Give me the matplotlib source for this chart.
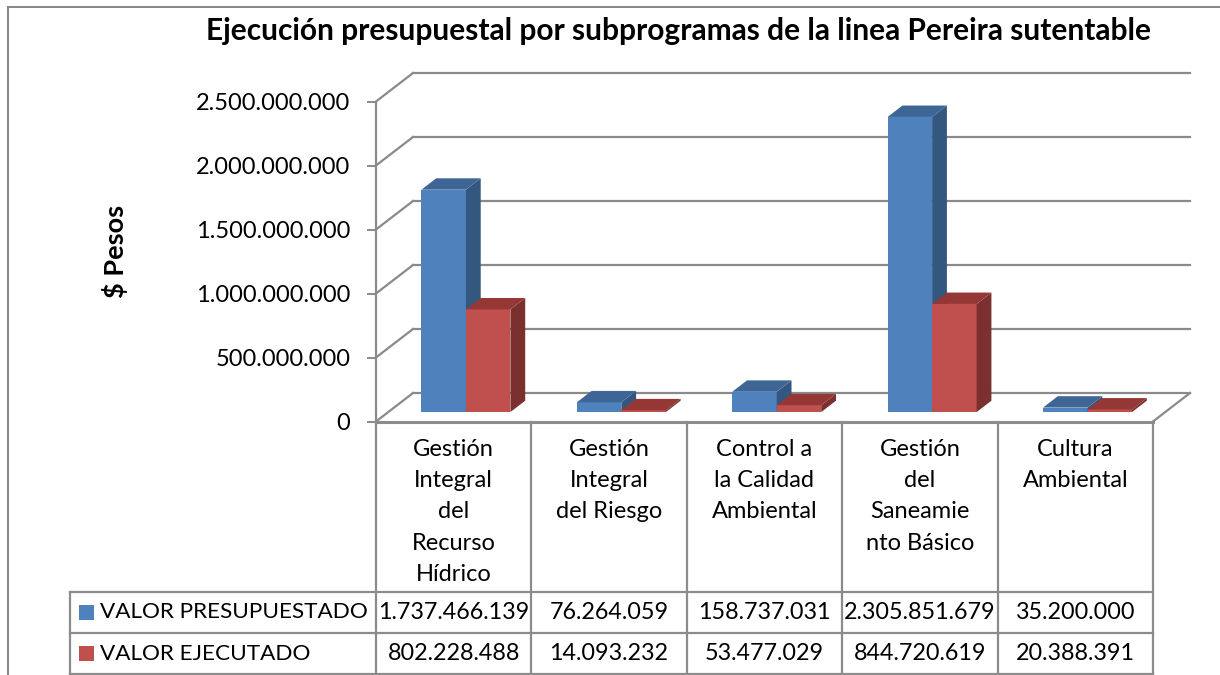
import matplotlib
matplotlib.use('Agg')
import matplotlib.pyplot as plt
from matplotlib.patches import Polygon, Rectangle
from matplotlib.lines import Line2D
from matplotlib.ticker import FuncFormatter
import matplotlib.transforms as mtransforms

# ---------------- data ----------------
title = "Ejecución presupuestal por subprogramas de la linea Pereira sutentable"
categories = ["Gestión\nIntegral\ndel\nRecurso\nHídrico",
              "Gestión\nIntegral\ndel Riesgo",
              "Control a\nla Calidad\nAmbiental",
              "Gestión\ndel\nSaneamie\nnto Básico",
              "Cultura\nAmbiental"]
series_names = ["VALOR PRESUPUESTADO", "VALOR EJECUTADO"]
presupuestado = [1737466139, 76264059, 158737031, 2305851679, 35200000]
ejecutado = [802228488, 14093232, 53477029, 844720619, 20388391]
yticks = [0, 500000000, 1000000000, 1500000000, 2000000000, 2500000000]
y_label = "$ Pesos"

# ---------------- style ----------------
plt.rcParams['font.family'] = ['Lato', 'DejaVu Sans']
FACE = [("#4F81BD", "#3D6697", "#34577F"), ("#C0504D", "#953735", "#7B2F2E")]
GRID = "#8A8A8A"

W, H = 1220, 675
fig = plt.figure(figsize=(W / 100, H / 100), dpi=100)

X0, X1 = 376, 1153      # front plane, pixels
Y0, Y1 = 421.5, 101.5
ax = fig.add_axes([X0 / W, 1 - Y0 / H, (X1 - X0) / W, (Y0 - Y1) / H])
n = len(categories)
ax.set_xlim(0, n)
ax.set_ylim(0, yticks[-1])

# depth vector (in data units)
px_per_cat = (X1 - X0) / n
px_per_val = (Y0 - Y1) / yticks[-1]
DX = 37 / px_per_cat
DY = 28.5 / px_per_val

# back wall gridlines and left wall diagonals
for v in yticks:
    ax.add_line(Line2D([DX, n + DX], [v + DY, v + DY], color=GRID, lw=1.6, clip_on=False, zorder=1))
    ax.add_line(Line2D([0, DX], [v, v + DY], color=GRID, lw=1.6, clip_on=False, zorder=1))
# floor right edge
ax.add_line(Line2D([n, n + DX], [0, DY], color=GRID, lw=1.6, clip_on=False, zorder=1))

# bars
bw = 44.5 / px_per_cat
f0, fd = 0.33, 0.40
for i in range(n):
    for j, vals in enumerate([presupuestado, ejecutado]):
        v = vals[i]
        front, top, side = FACE[j]
        xl = i + 0.5 - bw + j * bw + f0 * DX
        xr = xl + bw
        b = f0 * DY
        dx, dy = fd * DX, fd * DY
        z = 3 + i * 2 + j
        ax.add_patch(Polygon([(xl, b), (xr, b), (xr, b + v), (xl, b + v)],
                             closed=True, fc=front, ec='none', clip_on=False, zorder=z))
        ax.add_patch(Polygon([(xr, b), (xr + dx, b + dy), (xr + dx, b + v + dy), (xr, b + v)],
                             closed=True, fc=side, ec='none', clip_on=False, zorder=z))
        ax.add_patch(Polygon([(xl, b + v), (xr, b + v), (xr + dx, b + v + dy), (xl + dx, b + v + dy)],
                             closed=True, fc=top, ec='none', clip_on=False, zorder=z))

# axes styling
for s in ['top', 'right', 'bottom']:
    ax.spines[s].set_visible(False)
ax.spines['left'].set_color(GRID)
ax.spines['left'].set_linewidth(1.6)
ax.patch.set_alpha(0)
ax.set_xticks([])
ax.set_yticks(yticks)
ax.yaxis.set_major_formatter(FuncFormatter(lambda v, p: f"{int(v):,}".replace(",", ".")))
ax.tick_params(axis='y', direction='out', length=6.5, width=1.4, color=GRID,
               labelsize=17, pad=12, labelcolor='black')

# titles
fig.text(679 / W, 1 - 31 / H, title, ha='center', va='center', fontsize=21.5, fontweight='bold')
fig.text(115 / W, 1 - 251 / H, y_label, ha='center', va='center', rotation=90,
         fontsize=19.5, fontweight='bold')

# ---------------- data table ----------------
tr = mtransforms.blended_transform_factory(ax.transData, fig.transFigure)
fy = lambda py: 1 - py / H
fx = lambda px: px / W
TAB = "#8C8C8C"
row_tops = [592, 633, 674]
fig.add_artist(Line2D([0, n], [fy(Y0), fy(Y0)], transform=tr, color=TAB, lw=2.2, zorder=20))
for k in range(n + 1):
    fig.add_artist(Line2D([k, k], [fy(Y0), fy(H)], transform=tr, color=TAB, lw=1.6, zorder=20))
for py in row_tops:
    fig.add_artist(Line2D([fx(70), fx(X1)], [fy(py), fy(py)], color=TAB, lw=1.6, zorder=20))
fig.add_artist(Line2D([fx(70), fx(70)], [fy(592), fy(H)], color=TAB, lw=1.6, zorder=20))

for i, lab in enumerate(categories):
    fig.text(i + 0.5, fy(438.5), lab, transform=tr, ha='center', va='top',
             fontsize=17, linespacing=1.61)

row_c = [612.5, 653.5]
for j, (name, vals) in enumerate(zip(series_names, [presupuestado, ejecutado])):
    fig.add_artist(Rectangle((fx(79), fy(row_c[j] + 7.5)), 15 / W, 15 / H, fc=FACE[j][0], ec='none'))
    fig.text(fx(100), fy(row_c[j]), name, ha='left', va='center', fontsize=16.2)
    for i, v in enumerate(vals):
        fig.text(i + 0.5, fy(row_c[j]), f"{v:,}".replace(",", "."), transform=tr,
                 ha='center', va='center', fontsize=16.8)

# chart border
fig.add_artist(Line2D([fx(7.5), fx(7.5)], [fy(6.5), 0], color="#868686", lw=1.4))
fig.add_artist(Line2D([fx(7.5), 1], [fy(6.5), fy(6.5)], color="#868686", lw=1.4))

fig.savefig("out.png", dpi=100)
